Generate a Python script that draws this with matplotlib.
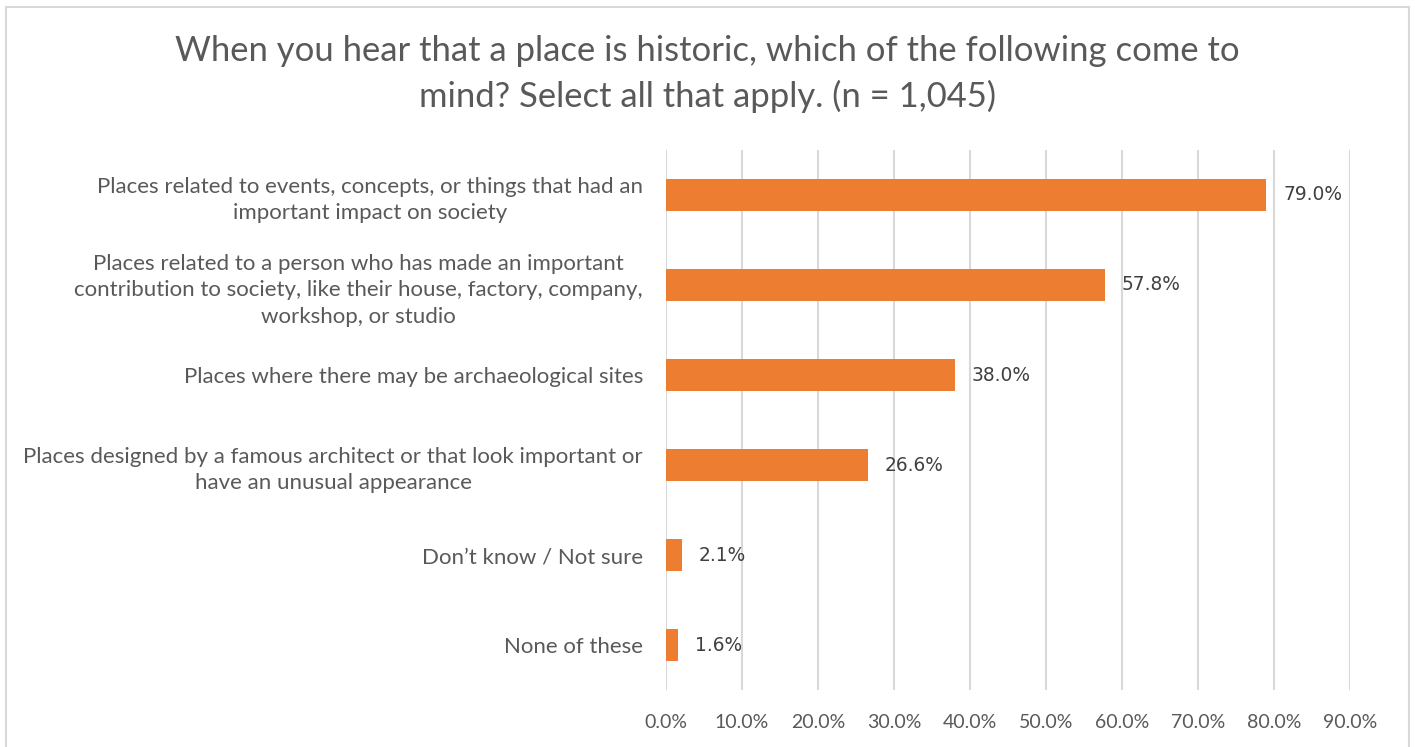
import matplotlib.pyplot as plt
from matplotlib.patches import Rectangle

# Dados do gráfico (de cima para baixo)
categorias = [
    "Places related to events, concepts, or things that had an\nimportant impact on society",
    "Places related to a person who has made an important\ncontribution to society, like their house, factory, company,\nworkshop, or studio",
    "Places where there may be archaeological sites",
    "Places designed by a famous architect or that look important or\nhave an unusual appearance",
    "Don\u2019t know / Not sure",
    "None of these",
]
valores = [79.0, 57.8, 38.0, 26.6, 2.1, 1.6]
ticks_x = [0, 10, 20, 30, 40, 50, 60, 70, 80, 90]

titulo = ("When you hear that a place is historic, which of the following come to\n"
          "mind? Select all that apply. (n = 1,045)")

cor_barra = "#ED7D31"
cor_texto = "#595959"
cor_grade = "#D9D9D9"

plt.rcParams['font.family'] = ['Lato', 'DejaVu Sans']

fig = plt.figure(figsize=(14.15, 7.47), dpi=100)
ax = fig.add_axes([0.4707, 0.0763, 0.4834, 0.7229])

# borda do gráfico
fig.patches.append(Rectangle((0.004, -0.01), 0.992, 1.0, transform=fig.transFigure,
                             fill=False, edgecolor=cor_grade, linewidth=1.5))

pos = list(range(len(categorias)))
ax.barh(pos, valores, height=0.355, color=cor_barra, zorder=3)

for p, v in zip(pos, valores):
    ax.annotate(f"{v:.1f}%", (v, p), xytext=(12, 0), textcoords="offset points",
                va="center", ha="left", fontsize=13.4, color="#404040",
                family="DejaVu Sans")

ax.set_ylim(len(categorias) - 0.5, -0.5)
ax.set_xlim(0, 90)
ax.set_xticks(ticks_x)
ax.set_xticklabels([f"{t:.1f}%" for t in ticks_x], fontsize=14, color=cor_texto)
ax.set_yticks(pos)
ax.set_yticklabels(categorias, fontsize=16, color=cor_texto, ha="right",
                   multialignment="center", linespacing=1.4)
ax.tick_params(axis="y", length=0, pad=16.5)
ax.tick_params(axis="x", length=0, pad=17)

ax.grid(axis="x", color=cor_grade, linewidth=1.5, zorder=0)
for s in ax.spines.values():
    s.set_visible(False)

fig.text(0.5, 0.901, titulo, ha="center", va="center", fontsize=24.9,
         color=cor_texto, linespacing=1.45)

fig.savefig("out.png", dpi=100)
